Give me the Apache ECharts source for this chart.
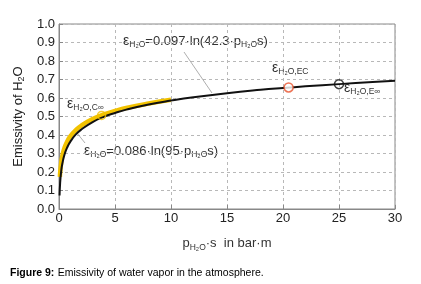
<!DOCTYPE html>
<html>
<head>
<meta charset="utf-8">
<script src="https://cdn.jsdelivr.net/npm/echarts@6/dist/echarts.min.js"></script>
<style>html,body{margin:0;padding:0;background:#fff}#c{width:421px;height:284px}</style>
</head>
<body>
<div id="c"></div>
<script>
// Black curve: eps = 0.097 ln(42.3 p s)
const blackX = [0.05,0.1,0.2,0.3,0.5,0.75,1,1.5,2,3,4,5,6,8,10,12,15,18,20,22,25,28,30];
const blackY = [0.073,0.140,0.207,0.246,0.296,0.335,0.363,0.403,0.430,0.470,0.498,0.519,0.537,0.565,0.586,0.604,0.626,0.644,0.654,0.663,0.675,0.686,0.693];
// Yellow curve: eps = 0.086 ln(95 p s)
const yellowX = [0.08,0.1,0.2,0.3,0.5,0.75,1,1.5,2,3,4,5,6,8,10];
const yellowY = [0.174,0.194,0.253,0.288,0.332,0.367,0.392,0.426,0.451,0.486,0.511,0.530,0.546,0.570,0.590];
// marked points
const pointC = [3.8, 0.506];
const pointEC = [20.5, 0.657];
const pointE = [25, 0.675];
const yTicks = [0,0.1,0.2,0.3,0.4,0.5,0.6,0.7,0.8,0.9,1.0];
const xTicks = [0,5,10,15,20,25,30];

const FONT = 'Liberation Sans, Arial, sans-serif';
const TXT = '#333';
const rich = {
  m: {fontSize: 13, fontFamily: FONT, color: TXT, lineHeight: 17},
  e: {fontSize: 14, fontFamily: FONT, color: TXT, lineHeight: 17},
  s: {fontSize: 8.5, fontFamily: FONT, color: TXT, lineHeight: 8, verticalAlign: 'bottom'}
};
const chart = echarts.init(document.getElementById('c'), null, {renderer: 'canvas'});
const zip = (a, b) => a.map((v, i) => [v, b[i]]);
function txt(x, y, str) {
  return {type: 'text', left: x, top: y, style: {text: str, rich: rich, fill: TXT}};
}
chart.setOption({
  animation: false,
  grid: {left: 59, right: 26, top: 24, bottom: 75, show: true, borderColor: '#888', borderWidth: 1},
  xAxis: {
    type: 'value', min: 0, max: 30, interval: 5,
    name: '{m|p}{s|H₂O}{m|·s  in bar·m}', nameLocation: 'middle', nameGap: 26,
    nameTextStyle: {rich: rich},
    axisLine: {lineStyle: {color: '#888'}},
    axisTick: {inside: true, length: 4, lineStyle: {color: '#888'}},
    axisLabel: {fontSize: 13, fontFamily: FONT, color: '#222', margin: 3,
      formatter: v => xTicks.includes(v) ? String(v) : ''},
    splitLine: {lineStyle: {color: '#b8b8b8', type: [3, 3]}}
  },
  yAxis: {
    type: 'value', min: 0, max: 1, interval: 0.1,
    name: '{m|Emissivity of H}{s|2}{m|O}', nameLocation: 'middle', nameGap: 32,
    nameTextStyle: {rich: {m: {fontSize: 13, fontFamily: FONT, color: '#222', lineHeight: 16}, s: {fontSize: 9, fontFamily: FONT, color: '#222', lineHeight: 9, verticalAlign: 'bottom'}}},
    axisLine: {lineStyle: {color: '#888'}},
    axisTick: {inside: true, length: 4, lineStyle: {color: '#888'}},
    axisLabel: {fontSize: 13, fontFamily: FONT, color: '#222', margin: 4,
      formatter: v => yTicks.some(t => Math.abs(t - v) < 1e-9) ? v.toFixed(1) : ''},
    splitLine: {lineStyle: {color: '#b8b8b8', type: [3, 3]}}
  },
  series: [
    {type: 'line', data: zip(yellowX, yellowY), smooth: true, symbol: 'none',
      lineStyle: {color: '#f2c200', width: 4.5}, z: 2},
    {type: 'line', data: zip(blackX, blackY), smooth: true, symbol: 'none',
      lineStyle: {color: '#111', width: 2}, z: 3},
    {type: 'scatter', data: [pointC], symbol: 'circle', symbolSize: 8,
      itemStyle: {color: 'rgba(0,0,0,0)', borderColor: '#f2c200', borderWidth: 1.5}, z: 4},
    {type: 'scatter', data: [pointEC], symbol: 'circle', symbolSize: 9,
      itemStyle: {color: '#fff', borderColor: '#e8502a', borderWidth: 1.5}, z: 4},
    {type: 'scatter', data: [pointE], symbol: 'circle', symbolSize: 9,
      itemStyle: {color: 'rgba(0,0,0,0)', borderColor: '#111', borderWidth: 1.5}, z: 4}
  ],
  graphic: [
    {type: 'line', shape: {x1: 184, y1: 52, x2: 212, y2: 93}, style: {stroke: '#999', lineWidth: 0.8}, z: 1},
    {type: 'line', shape: {x1: 77, y1: 133, x2: 85, y2: 143}, style: {stroke: '#999', lineWidth: 0.8}, z: 1},
    txt(123, 34, '{e|ε}{s|H₂O}{m|=0.097·ln(42.3·p}{s|H₂O}{m|s)}'),
    txt(84, 144, '{e|ε}{s|H₂O}{m|=0.086·ln(95·p}{s|H₂O}{m|s)}'),
    txt(272, 61, '{e|ε}{s|H₂O,EC}'),
    txt(344, 81, '{e|ε}{s|H₂O,E∞}'),
    txt(67, 97, '{e|ε}{s|H₂O,C∞}'),
    {type: 'text', left: 10, top: 267, style: {
      text: '{b|Figure 9:} {n|Emissivity of water vapor in the atmosphere.}',
      rich: {b: {fontSize: 10.5, fontWeight: 'bold', fontFamily: FONT, fill: '#000'},
             n: {fontSize: 10.5, fontFamily: FONT, fill: '#000'}}}}
  ]
});
</script>
</body>
</html>
